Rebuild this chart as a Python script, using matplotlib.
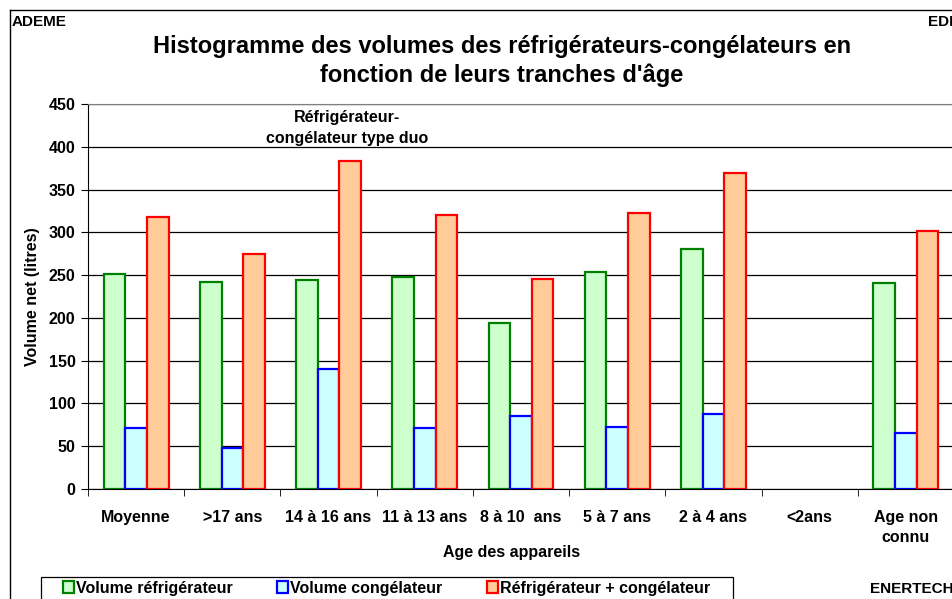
import numpy as np
import matplotlib.pyplot as plt
from matplotlib.patches import Patch, Rectangle
from matplotlib.lines import Line2D

plt.rcParams['font.family'] = ['Liberation Sans', 'DejaVu Sans']

categories = ['Moyenne', '>17 ans', '14 à 16 ans', '11 à 13 ans', '8 à 10  ans',
              '5 à 7 ans', '2 à 4 ans', '<2ans', 'Age non\nconnu']
vol_refrig = [251, 242, 244, 248, 194, 254, 281, np.nan, 241]
vol_congel = [71, 48, 140, 71, 85, 73, 88, np.nan, 65]
vol_total = [318, 275, 383, 320, 245, 323, 369, np.nan, 302]
y_ticks = [0, 50, 100, 150, 200, 250, 300, 350, 400, 450]

W, H = 953, 599
fs = 11.5
fig = plt.figure(figsize=(W / 100, H / 100), dpi=100)
ax = fig.add_axes([88 / W, 110 / H, 866 / W, 385 / H])

x = np.arange(len(categories))
bw = 0.225
ax.bar(x - bw, vol_refrig, bw, color='#CCFFCC', edgecolor='#008000', linewidth=1.6, zorder=3)
ax.bar(x, vol_congel, bw, color='#CCFFFF', edgecolor='#0000FF', linewidth=1.6, zorder=3)
ax.bar(x + bw, vol_total, bw, color='#FFCC99', edgecolor='#FF0000', linewidth=1.6, zorder=3)

ax.set_xlim(-0.5, len(categories) - 0.5)
ax.set_ylim(0, 450)
ax.set_yticks(y_ticks)
ax.yaxis.grid(True, color='black', linewidth=0.9, zorder=0)
ax.set_axisbelow(True)
ax.set_xticks(x)
ax.set_xticklabels(categories, fontsize=fs, fontweight='bold', linespacing=1.45)
ax.set_xticks(np.arange(len(categories) + 1) - 0.5, minor=True)
ax.tick_params(axis='x', which='major', length=0, pad=15)
ax.tick_params(axis='x', which='minor', length=5, direction='out', color='black')
ax.tick_params(axis='y', length=5, direction='out', labelsize=fs, pad=4)
for lab in ax.get_yticklabels():
    lab.set_fontweight('bold')

ax.spines['top'].set_color('#808080')
ax.spines['right'].set_color('#808080')
ax.spines['left'].set_color('black')
ax.spines['bottom'].set_color('black')

ax.set_ylabel('Volume net (litres)', fontsize=fs, fontweight='bold', va='center')
ax.yaxis.set_label_coords((33 - 88) / 866, 0.5)
ax.set_xlabel('Age des appareils', fontsize=fs, fontweight='bold', va='center')
ax.xaxis.set_label_coords((512 - 88) / 866, -(552 - 489) / 385)

# annotation clipped by the 400 gridline
t = ax.text(2.19, 422, 'Réfrigérateur-\ncongélateur type duo', ha='center', va='center',
            fontsize=fs, fontweight='bold', linespacing=1.45, zorder=1)
t.set_clip_path(Rectangle((-0.5, 400.5), 9, 50, transform=ax.transData))

fig.text(502 / W, 1 - 61 / H, "Histogramme des volumes des réfrigérateurs-congélateurs en\nfonction de leurs tranches d'âge",
         ha='center', va='center', fontsize=17, fontweight='bold', linespacing=1.35)
fig.text(12 / W, 1 - 22 / H, 'ADEME', fontsize=11, fontweight='bold', va='center')
fig.text(928 / W, 1 - 22 / H, 'EDF', fontsize=11, fontweight='bold', va='center')
fig.text(870 / W, 1 - 589 / H, 'ENERTECH', fontsize=11, fontweight='bold', va='center')

# outer chart border
fig.add_artist(Line2D([10 / W, 10 / W], [0, 1 - 10 / H], color='black', linewidth=1))
fig.add_artist(Line2D([10 / W, 1], [1 - 10 / H, 1 - 10 / H], color='black', linewidth=1))

# legend box (cut by the bottom edge)
fig.add_artist(Rectangle((41 / W, -10 / H), (733 - 41) / W, (599 - 577 + 10) / H,
                         transform=fig.transFigure, facecolor='none', edgecolor='black', linewidth=0.9))
handles = [Patch(facecolor='#CCFFCC', edgecolor='#008000', linewidth=1.6),
           Patch(facecolor='#CCFFFF', edgecolor='#0000FF', linewidth=1.6),
           Patch(facecolor='#FFCC99', edgecolor='#FF0000', linewidth=1.6)]
leg = fig.legend(handles, ['Volume réfrigérateur', 'Volume congélateur', 'Réfrigérateur + congélateur'],
                 loc='center left', bbox_to_anchor=(63 / W, 1 - 588 / H), ncol=3,
                 prop={'size': fs, 'weight': 'bold'}, frameon=False,
                 handlelength=0.7, handleheight=0.7, handletextpad=0.1,
                 columnspacing=2.8, borderpad=0, borderaxespad=0)

fig.savefig('out.png', dpi=100)
